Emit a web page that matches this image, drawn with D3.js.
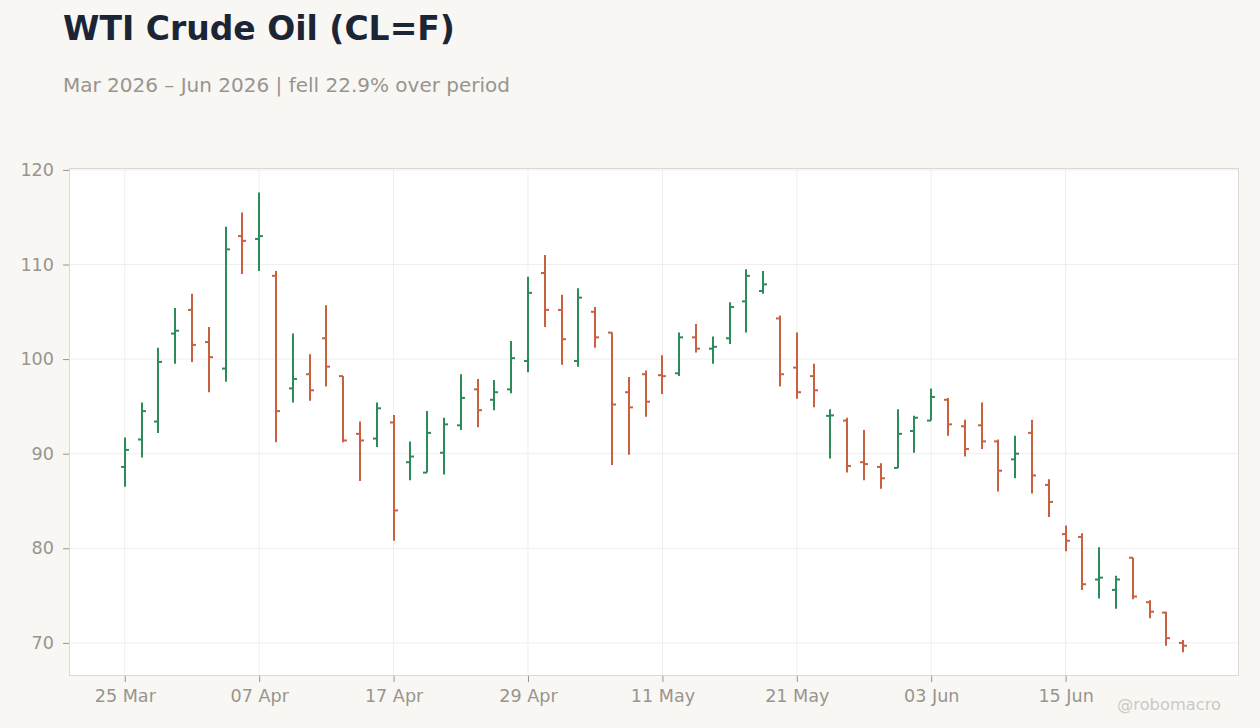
<!DOCTYPE html>
<html><head><meta charset="utf-8">
<script src="https://cdn.jsdelivr.net/npm/d3@7/dist/d3.min.js"></script>
<style>
html,body{margin:0;padding:0;background:#f8f7f4;}
svg{display:block;font-family:"DejaVu Sans",sans-serif;}
</style></head>
<body><svg id="c" width="1260" height="728"></svg>
<script>
const dates = ["2026-03-25","2026-03-26","2026-03-27","2026-03-30","2026-03-31",
"2026-04-01","2026-04-02","2026-04-06","2026-04-07","2026-04-08","2026-04-09","2026-04-10","2026-04-13","2026-04-14","2026-04-15","2026-04-16","2026-04-17","2026-04-20","2026-04-21","2026-04-22","2026-04-23","2026-04-24","2026-04-27","2026-04-28","2026-04-29","2026-04-30",
"2026-05-01","2026-05-04","2026-05-05","2026-05-06","2026-05-07","2026-05-08","2026-05-11","2026-05-12","2026-05-13","2026-05-14","2026-05-15","2026-05-18","2026-05-19","2026-05-20","2026-05-21","2026-05-22","2026-05-26","2026-05-27","2026-05-28","2026-05-29",
"2026-06-01","2026-06-02","2026-06-03","2026-06-04","2026-06-05","2026-06-08","2026-06-09","2026-06-10","2026-06-11","2026-06-12","2026-06-15","2026-06-16","2026-06-17","2026-06-18","2026-06-22","2026-06-23","2026-06-24","2026-06-25"];

const open = [88.6,91.5,93.4,102.7,105.2,101.8,99.0,113.0,112.7,108.8,
96.9,98.4,102.2,98.2,92.1,91.6,93.3,89.1,88.0,90.1,
93.0,96.8,95.7,96.8,99.8,109.1,105.2,99.8,105.0,102.8,
96.5,98.4,98.3,98.5,102.3,101.1,102.2,106.1,107.2,104.3,
99.1,98.2,94.0,93.5,89.1,88.6,88.5,92.4,93.5,95.7,
92.9,93.0,91.3,89.4,92.2,86.7,81.5,81.2,76.7,75.6,
79.0,74.3,73.2,70.0];

const high = [91.7,95.4,101.2,105.4,106.9,103.4,114.0,115.5,117.6,109.3,
102.7,100.5,105.7,98.2,93.4,95.4,94.1,91.3,94.5,93.8,
98.4,97.9,97.8,101.9,108.7,111.0,106.8,107.5,105.5,102.8,
98.1,98.8,100.4,102.8,103.7,102.4,106.0,109.5,109.3,104.6,
102.8,99.5,94.7,93.8,92.5,89.0,94.7,94.0,96.9,95.9,
93.6,95.4,91.5,91.9,93.6,87.3,82.4,81.6,80.1,77.1,
79.0,74.5,73.3,70.3];

const low = [86.5,89.6,92.2,99.5,99.7,96.5,97.6,109.0,109.3,91.2,
95.4,95.6,97.1,91.2,87.1,90.7,80.8,87.2,88.0,87.8,
92.5,92.8,94.6,96.4,98.6,103.4,99.4,99.2,101.2,88.8,
89.9,93.9,96.3,98.2,100.7,99.5,101.6,102.8,106.9,97.1,
95.8,94.9,89.5,88.0,87.2,86.3,88.5,90.1,93.5,91.9,
89.7,90.5,86.0,87.4,85.8,83.3,79.7,75.6,74.7,73.6,
74.6,72.6,69.7,69.0];

const close = [90.4,94.5,99.7,103.0,101.5,100.2,111.6,112.5,113.0,94.5,
97.9,96.7,99.2,91.4,91.4,94.8,84.0,89.7,92.2,93.1,
95.9,94.6,96.5,100.1,107.0,105.2,102.1,106.5,102.3,95.2,
94.9,95.5,98.2,102.3,101.1,101.3,105.5,108.8,107.9,98.4,
96.5,96.7,94.05,88.7,88.9,87.4,92.1,93.8,96.0,93.1,
90.5,91.3,88.2,90.0,87.7,84.9,80.8,76.2,76.9,76.7,
74.9,73.3,70.5,69.7];

const yTicks = [70,80,90,100,110,120];
const xTickIdx = [0,8,16,24,32,40,48,56];

const title = "WTI Crude Oil (CL=F)";
const watermark = "@robomacro";

const W = 1260, H = 728;
const L = 69, R = 1239, T = 168, B = 676;
const svg = d3.select("#c");
const parse = d3.timeParse("%Y-%m-%d");
const fmt = d3.timeFormat("%d %b");

const x = d3.scalePoint().domain(dates).range([L, R]).padding(3.32);
const y = d3.scaleLinear().domain([66.5, 120.2]).range([B, T]);

const GREEN = "#2e8b57", RED = "#c9603f";
const gridC = "#efeeec", axisTxt = "#9a948e";

// plot background
svg.append("rect").attr("x", L).attr("y", T).attr("width", R - L).attr("height", B - T)
  .attr("fill", "#ffffff");

// gridlines
svg.append("g").selectAll("line").data(yTicks).join("line")
  .attr("x1", L).attr("x2", R).attr("y1", d => y(d)).attr("y2", d => y(d))
  .attr("stroke", gridC).attr("stroke-width", 1);
svg.append("g").selectAll("line").data(xTickIdx).join("line")
  .attr("x1", i => x(dates[i])).attr("x2", i => x(dates[i])).attr("y1", T).attr("y2", B)
  .attr("stroke", gridC).attr("stroke-width", 1);

// border
svg.append("rect").attr("x", L + 0.5).attr("y", T + 0.5).attr("width", R - L - 1).attr("height", B - T - 1)
  .attr("fill", "none").attr("stroke", "#dcd8d3").attr("stroke-width", 1);

// axes
const yAxis = d3.axisLeft(y).tickValues(yTicks).tickSize(6).tickPadding(9);
const gy = svg.append("g").attr("transform", `translate(${L},0)`).call(yAxis);
gy.select(".domain").remove();
gy.selectAll("line").attr("stroke", "#9a948e");
gy.selectAll("text").attr("fill", axisTxt).attr("font-size", 17.6).attr("font-family", "DejaVu Sans");

const xAxis = d3.axisBottom(x).tickValues(xTickIdx.map(i => dates[i]))
  .tickFormat(d => fmt(parse(d))).tickSize(6).tickPadding(8);
const gx = svg.append("g").attr("transform", `translate(0,${B})`).call(xAxis);
gx.select(".domain").remove();
gx.selectAll("line").attr("stroke", "#9a948e");
gx.selectAll("text").attr("fill", axisTxt).attr("font-size", 17.6).attr("font-family", "DejaVu Sans");

// OHLC bars
const data = dates.map((d, i) => ({d, o: open[i], h: high[i], l: low[i], c: close[i]}));
const g = svg.append("g");
const tk = 4;
data.forEach(b => {
  const cx = Math.round(x(b.d));
  const col = b.c >= b.o ? GREEN : RED;
  g.append("line").attr("x1", cx).attr("x2", cx).attr("y1", y(b.h)).attr("y2", y(b.l))
    .attr("stroke", col).attr("stroke-width", 2);
  g.append("line").attr("x1", cx - tk).attr("x2", cx).attr("y1", y(b.o)).attr("y2", y(b.o))
    .attr("stroke", col).attr("stroke-width", 2);
  g.append("line").attr("x1", cx).attr("x2", cx + tk).attr("y1", y(b.c)).attr("y2", y(b.c))
    .attr("stroke", col).attr("stroke-width", 2);
});

// titles
const pct = (close[close.length - 1] - close[0]) / close[0] * 100;
const sub = `${d3.timeFormat("%b %Y")(parse(dates[0]))} – ${d3.timeFormat("%b %Y")(parse(dates[dates.length-1]))} | ${pct < 0 ? "fell" : "rose"} ${Math.abs(pct).toFixed(1)}% over period`;
svg.append("text").attr("x", 63).attr("y", 40).text(title)
  .attr("font-size", 33).attr("font-weight", "bold").attr("fill", "#1b2535");
svg.append("text").attr("x", 63).attr("y", 92).text(sub)
  .attr("font-size", 20).attr("fill", "#9a948e");
svg.append("text").attr("x", 1221).attr("y", 710).attr("text-anchor", "end").text(watermark)
  .attr("font-size", 16.3).attr("fill", "#cdc9c4");
</script></body></html>
